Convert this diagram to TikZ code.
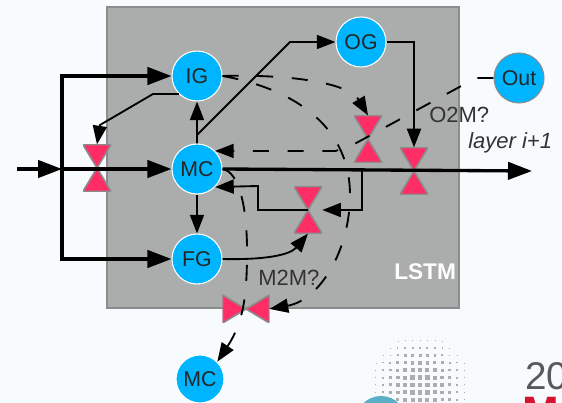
\documentclass[tikz,border=0pt]{standalone}
\usepackage{fontspec}
\setmainfont{Liberation Sans}
\usepackage{xcolor}
\usetikzlibrary{arrows.meta}
\definecolor{lstmbg}{HTML}{F7FBFD}
\definecolor{lstmgray}{HTML}{ABADAC}
\definecolor{lstmblue}{HTML}{00B5FF}
\definecolor{lstmvalve}{HTML}{FF2D66}
\definecolor{lstmteal}{HTML}{5AAFC7}
\definecolor{lstmred}{HTML}{D3132F}

\begin{document}
\begin{tikzpicture}[
    x=0.75pt, y=-0.75pt,
    gate/.style={circle, draw=white, line width=0.8pt, fill=lstmblue, minimum size=37.5pt,
                 inner sep=0pt, font=\fontsize{16}{16}\selectfont, text=black!85},
    valvev/.style={minimum width=21pt, minimum height=35pt, inner sep=0pt,
                   path picture={\draw[fill=lstmvalve, draw=black!45, line width=1.2pt]
                   (path picture bounding box.north west) -- (path picture bounding box.north east)
                   -- (path picture bounding box.south west) -- (path picture bounding box.south east) -- cycle;}},
    valveh/.style={minimum width=35pt, minimum height=21pt, inner sep=0pt,
                   path picture={\draw[fill=lstmvalve, draw=black!45, line width=1.2pt]
                   (path picture bounding box.north west) -- (path picture bounding box.south east)
                   -- (path picture bounding box.north east) -- (path picture bounding box.south west) -- cycle;}},
    thickflow/.style={line width=2.5pt, -{Triangle[length=18pt, width=13pt]}},
    thinflow/.style={line width=1.4pt, -{Triangle[length=14pt, width=10.5pt]}},
    dashflow/.style={line width=1.4pt, dash pattern=on 12pt off 14pt, -{Triangle[length=14pt, width=10.5pt]}},
    note/.style={font=\fontsize{16.5}{16.5}\selectfont, text=black!80, inner sep=0pt},
]
\clip (0,0) rectangle (562,403);
\fill[lstmbg] (0,0) rectangle (562,403);
\draw[fill=lstmgray, draw=black!45, line width=0.8pt] (107,7) rectangle (459,308);

% logo corner
\foreach \i in {-6,...,6} {
    \foreach \j in {-6,...,2} {
        \pgfmathsetmacro{\dotsize}{4.6*max(0,1-(\i*\i+\j*\j)/46)}
        \fill[black!32] ({420+\i*7.4-\dotsize/2},{385+\j*7.4-\dotsize/2}) rectangle ++(\dotsize,\dotsize);
    }
}
\fill[lstmteal] (381,421) circle (25);
\node[anchor=base west, inner sep=0pt, text=black!65, font=\fontsize{29}{29}\selectfont] (year) at (525,390) {20};
\node[anchor=base west, inner sep=0pt, text=lstmred, font=\fontsize{33}{33}\selectfont\bfseries] (brand) at (522,428) {M};

% valves
\node[valvev] (v1) at (97,168) {};
\node[valvev] (v2) at (368,139) {};
\node[valvev] (v3) at (414,171) {};
\node[valvev] (v4) at (308,210) {};
\node[valveh] (v5) at (246,309) {};

% gates
\node[gate] (IG) at (197,76) {IG};
\node[gate] (MC) at (197,169) {MC};
\node[gate] (FG) at (197,259) {FG};
\node[gate] (OG) at (361,42) {OG};
\node[gate, draw=black!45] (Out) at (519,78) {Out};
\node[gate, minimum size=36pt] (MCnext) at (200,379) {MC};

% thick flow
\coordinate (start) at (17,169);
\coordinate (split) at (62,169);
\coordinate (finish) at (532,171);
\draw[thickflow] (start) -- (split);
\draw[thickflow] (split) -- (MC);
\draw[thickflow] (split) -- (62,76) -- (IG);
\draw[thickflow] (split) -- (62,259) -- (FG);
\draw[thickflow] (MC.east) -- (finish);

% thin flow
\coordinate (tap) at (362,171);
\draw[thinflow] (IG.south west) -- (153,94) -- (100,125) -- (v1.north);
\draw[thinflow] (MC) -- (IG);
\draw[thinflow] (MC) -- (FG);
\draw[thinflow] (MC.north) -- (197,135) -- (290,42) -- (OG);
\draw[thinflow] (OG) -- (414,42) -- (v3.north);
\draw[thinflow] (tap) -- (362,210) -- (v4.east);
\draw[thinflow] (v4.center) -- (258,210) -- (258,186) -- (MC.south east);
\draw[thinflow] (FG.east) .. controls (265,260) and (290,255) .. (v4.south);

% dashed flow
\draw[dashflow] (IG.east) .. controls (300,74) and (350,85) .. (v2.north);
\draw[dashflow] (IG.east) .. controls (300,90) and (350,130) .. (350,195)
    .. controls (350,250) and (320,300) .. (v5.east);
\draw[dashflow] (Out.west) -- (476,78) -- (347,148) -- (335,151) -- (MC.north east);
\draw[dashflow] (MC.east) .. controls (240,172) and (247,210) .. (247,250)
    .. controls (247,290) and (245,320) .. (MCnext.north east);

% labels
\node[note, anchor=west] (o2m) at (429,115) {O2M?};
\node[note, anchor=west] (layer) at (468,143) {\itshape layer i+1};
\node[note, anchor=west] (m2m) at (258,278) {M2M?};
\node[note, anchor=west, text=white, font=\fontsize{17}{17}\selectfont\bfseries] (lstm) at (394,272) {LSTM};
\end{tikzpicture}
\end{document}
